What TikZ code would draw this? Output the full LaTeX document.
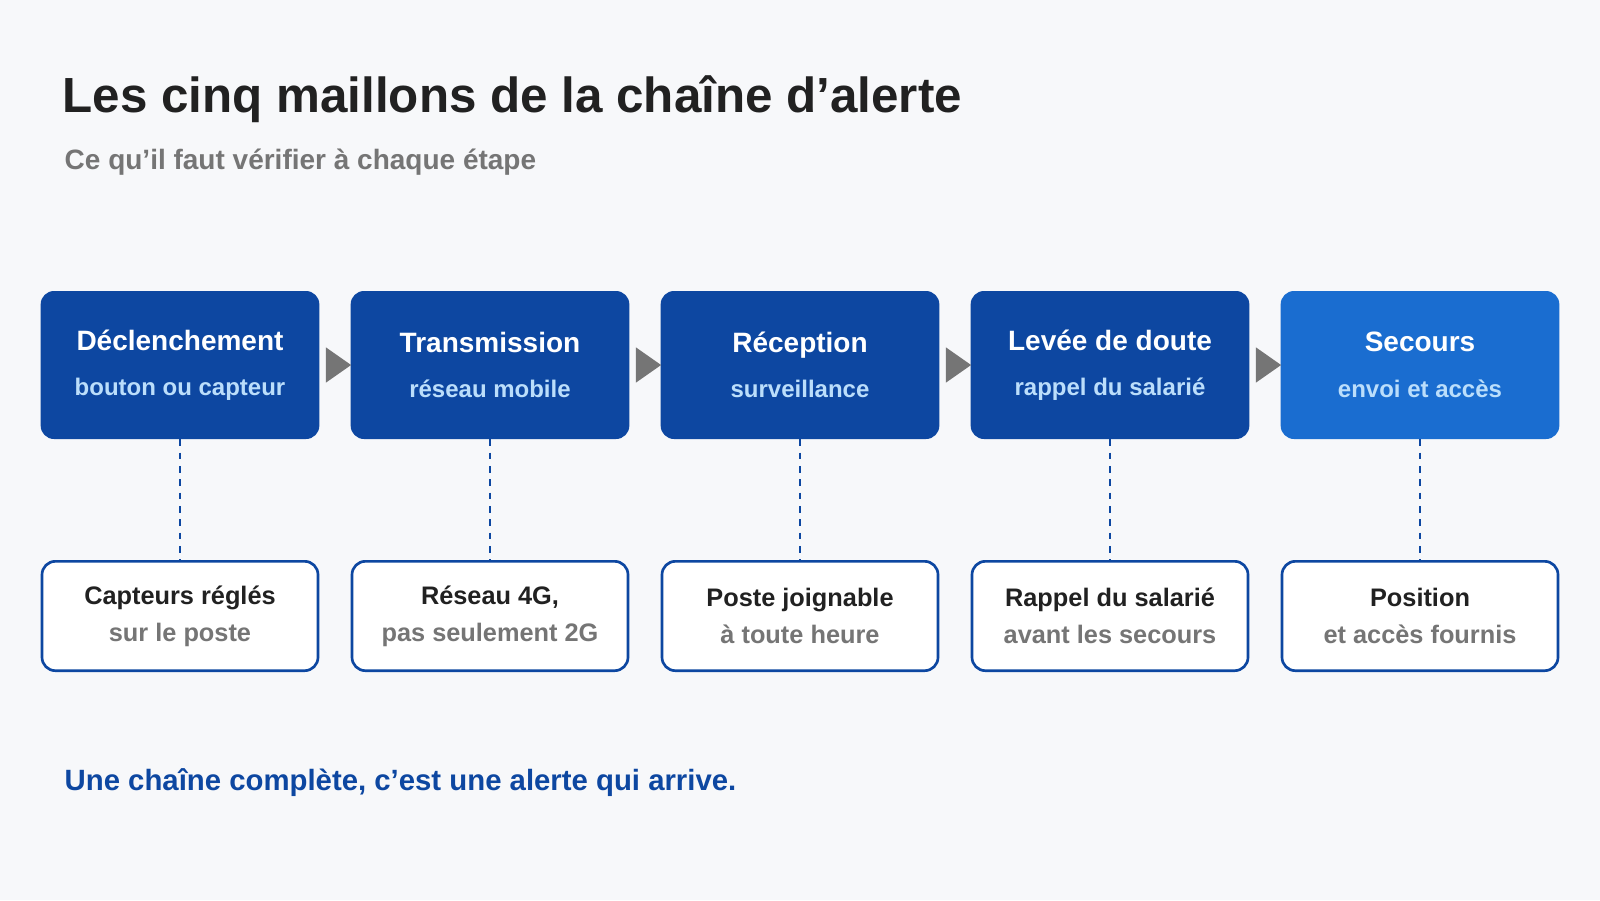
\documentclass[tikz,border=0pt]{standalone}
\usepackage{fontspec}
\setmainfont{Liberation Sans}
\usetikzlibrary{positioning,shapes.geometric,calc}
\definecolor{chainblue}{HTML}{0D47A1}
\definecolor{chainlight}{HTML}{1A6DD0}
\definecolor{chainsub}{HTML}{BBDEFB}
\definecolor{chainbg}{HTML}{F7F8FA}
\definecolor{chaintext}{HTML}{212121}
\definecolor{chaingray}{HTML}{757575}
\newcommand{\stagesub}[1]{{\color{chainsub}\fontsize{18}{28}\selectfont #1}}
\newcommand{\checksub}[1]{{\color{chaingray}\fontsize{19}{28}\selectfont #1}}

\begin{document}
\begin{tikzpicture}[x=0.75pt, y=-0.75pt,
    stage/.style={draw=none, rounded corners=10pt, fill=chainblue, minimum width=209pt, minimum height=111pt, align=center, text=white, font=\bfseries\fontsize{21}{34}\selectfont},
    check/.style={draw=chainblue, line width=2pt, rounded corners=10pt, fill=white, minimum width=207pt, minimum height=82pt, align=center, text=chaintext, font=\bfseries\fontsize{19}{28}\selectfont},
    link/.style={chainblue, line width=2pt, dash pattern=on 5pt off 5pt},
    flow/.style={fill=chaingray, isosceles triangle, isosceles triangle apex angle=70, inner sep=0pt, minimum height=19pt, minimum width=18pt}
]
\fill[chainbg] (0,0) rectangle (1600,900);

% Titles
\node[anchor=base west, text=chaintext, font=\bfseries\fontsize{37}{44}\selectfont] (title) at (58,112) {Les cinq maillons de la chaîne d'alerte};
\node[anchor=base west, text=chaingray, font=\bfseries\fontsize{21}{26}\selectfont] (subtitle) at (60,169) {Ce qu'il faut vérifier à chaque étape};

% Steps of the chain
\node[stage] (trig) at (180,365) {Déclenchement\\\stagesub{bouton ou capteur}};
\node[stage] (trans) at (490,365) {Transmission\\\stagesub{réseau mobile}};
\node[stage] (recep) at (800,365) {Réception\\\stagesub{surveillance}};
\node[stage] (doubt) at (1110,365) {Levée de doute\\\stagesub{rappel du salarié}};
\node[stage, fill=chainlight] (help) at (1420,365) {Secours\\\stagesub{envoi et accès}};

% Checks
\node[check] (trigchk) at (180,616) {Capteurs réglés\\\checksub{sur le poste}};
\node[check] (transchk) at (490,616) {Réseau 4G,\\\checksub{pas seulement 2G}};
\node[check] (recepchk) at (800,616) {Poste joignable\\\checksub{à toute heure}};
\node[check] (doubtchk) at (1110,616) {Rappel du salarié\\\checksub{avant les secours}};
\node[check] (helpchk) at (1420,616) {Position\\\checksub{et accès fournis}};

% Arrows between steps
\foreach \a/\b in {trig/trans, trans/recep, recep/doubt, doubt/help} {
    \node[flow] (\a-\b) at ($(\a.east)!0.5!(\b.west)$) {};
}

% Dashed links
\foreach \s in {trig, trans, recep, doubt, help} {
    \draw[link] (\s.south) -- (\s chk.north);
}

% Footer
\node[anchor=base west, text=chainblue, font=\bfseries\fontsize{22}{26}\selectfont] (footer) at (60,790) {Une chaîne complète, c'est une alerte qui arrive.};
\end{tikzpicture}
\end{document}
